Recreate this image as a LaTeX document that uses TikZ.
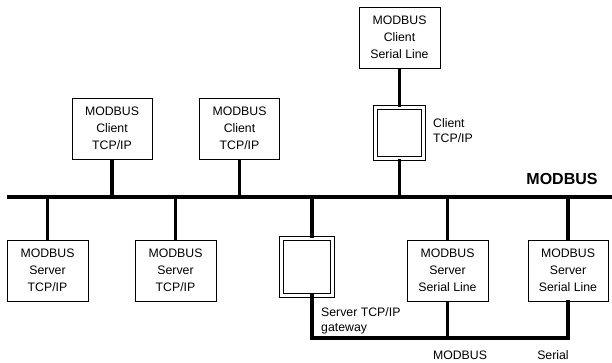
\documentclass[tikz,border=0pt]{standalone}
\usepackage{fontspec}
\setmainfont{Liberation Sans}
\usetikzlibrary{positioning}

\begin{document}
\begin{tikzpicture}[
    x=1pt, y=-1pt,
    devnode/.style={rectangle, draw=black, line width=0.9pt, fill=white, minimum width=80pt, minimum height=61pt, inner sep=0pt, align=center, font=\fontsize{12.3}{17}\selectfont},
    gatenode/.style={rectangle, draw=black, line width=0.9pt, double, double distance=2.6pt, inner sep=0pt},
    lbl/.style={align=left, anchor=west, inner sep=0pt, font=\fontsize{12.3}{15}\selectfont},
    link/.style={line width=3.4pt},
    busline/.style={line width=4.5pt}
]
\useasboundingbox (0,0) rectangle (612,363);

% main network line
\coordinate (busL) at (7,197);
\coordinate (busR) at (612,197);
\draw[busline] (busL) -- (busR);
\node[font=\bfseries\fontsize{16}{16}\selectfont, inner sep=0pt] (busname) at (562,179) {MODBUS};

% clients
\node[devnode] (cl1) at (112,128.5) {MODBUS\\Client\\TCP/IP};
\node[devnode] (cl2) at (239.5,128.5) {MODBUS\\Client\\TCP/IP};
\node[devnode, minimum width=81pt] (clser) at (399.5,37.5) {MODBUS\\Client\\Serial Line};
\node[gatenode, minimum width=48pt, minimum height=51pt] (cgw) at (399.5,133) {};
\node[lbl] (cgwlbl) at (433,131) {Client\\TCP/IP};

% servers
\node[devnode, minimum width=81pt] (sv1) at (47.5,270.5) {MODBUS\\Server\\TCP/IP};
\node[devnode, minimum width=81pt] (sv2) at (175.5,270.5) {MODBUS\\Server\\TCP/IP};
\node[gatenode, minimum width=51pt, minimum height=57pt] (sgw) at (307,267) {};
\node[devnode, minimum width=81pt] (ss1) at (447.5,270.5) {MODBUS\\Server\\Serial Line};
\node[devnode] (ss2) at (568,270.5) {MODBUS\\Server\\Serial Line};
\node[lbl] (sgwlbl) at (321,321) {Server TCP/IP\\gateway};

% drops to the bus
\draw[link] (cl1.south) -- (cl1.south |- busL);
\draw[link] (cl2.south) -- (cl2.south |- busL);
\draw[link] (clser.south) -- (cgw.north);
\draw[link] (cgw.south) -- (cgw.south |- busL);
\draw[link] (sv1.north) -- (sv1.north |- busL);
\draw[link] (sv2.north) -- (sv2.north |- busL);
\draw[link] (sgw.north -| 312,0) -- (busL -| 312,0);
\draw[link] (ss1.north) -- (ss1.north |- busL);
\draw[link] (ss2.north) -- (ss2.north |- busL);

% serial line
\coordinate (serL) at (312,338);
\draw[link, line cap=rect] (sgw.south -| serL) -- (serL) -- (serL -| ss2.south) -- (ss2.south);
\draw[link] (ss1.south) -- (ss1.south |- serL);
\node[font=\fontsize{12.3}{15}\selectfont, inner sep=0pt] (serlbl1) at (460,355) {MODBUS};
\node[font=\fontsize{12.3}{15}\selectfont, inner sep=0pt] (serlbl2) at (553,355) {Serial};
\end{tikzpicture}
\end{document}
